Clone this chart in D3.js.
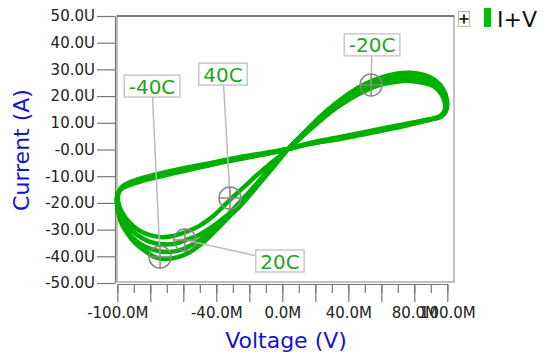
<!DOCTYPE html>
<html>
<head>
<meta charset="utf-8">
<script src="https://cdn.jsdelivr.net/npm/d3@7"></script>
<style>
  body { margin: 0; background: #fff; }
  svg { display: block; font-family: "DejaVu Sans", sans-serif; }
</style>
</head>
<body>
<svg id="chart" width="547" height="355"></svg>
<script>
// I-V sweeps, voltage in mV (M), current in uA (U), one closed loop per temperature
var loopM40 = [[3.5,0.2],[13.8,6.6],[22.8,12.2],[31.9,17.0],[41.0,21.2],[50.1,24.5],[59.2,26.8],[68.3,28.3],[77.4,28.7],[86.0,27.9],[92.5,26.0],[97.4,22.7],[99.8,18.5],[99.2,14.8],[96.2,12.5],
  [86.5,11.0],[71.3,9.2],[53.2,6.9],[35.0,4.7],[16.8,2.4],[3.5,0.2],
  [-10.5,-1.7],[-25.6,-3.6],[-43.8,-5.8],[-62.0,-8.4],[-80.2,-11.0],[-92.3,-13.3],[-98.4,-15.2],[-100.2,-18.5],
  [-99.6,-22.7],[-97.8,-27.2],[-94.1,-31.3],[-89.3,-35.0],[-83.2,-38.0],[-77.2,-40.3],[-71.1,-41.0],[-63.2,-40.3],[-55.9,-38.4],[-49.9,-35.8],[-43.8,-32.4],[-37.8,-28.7],[-31.7,-24.9],[-25.6,-21.2],[-19.6,-17.0],[-13.5,-12.5],[-7.5,-8.1],[-1.4,-3.6]];

var loopM20 = [[3.5,0.2],[13.8,6.6],[22.8,11.8],[31.9,16.7],[41.0,20.4],[50.1,23.8],[59.2,26.0],[68.3,27.5],[77.4,27.9],[86.0,27.2],[92.5,25.3],[97.4,21.9],[99.8,17.8],[99.2,14.4],[96.2,12.2],
  [86.5,11.0],[71.3,8.8],[53.2,6.6],[35.0,4.3],[16.8,2.4],[3.5,0.2],
  [-10.5,-1.7],[-25.6,-3.2],[-43.8,-5.8],[-62.0,-8.1],[-80.2,-10.7],[-92.3,-12.9],[-98.4,-15.2],[-100.2,-18.2],
  [-99.6,-22.3],[-97.8,-26.4],[-94.1,-30.5],[-89.3,-33.9],[-82.6,-36.5],[-75.3,-38.0],[-68.1,-38.4],[-60.2,-37.3],[-52.9,-35.0],[-45.6,-32.0],[-38.4,-28.3],[-30.5,-23.4],[-22.6,-18.2],[-14.7,-12.5],[-6.9,-6.6],[-1.4,-3.2]];

var loop20 = [[3.5,0.2],[13.8,6.2],[22.8,11.4],[31.9,15.9],[41.0,19.7],[50.1,23.0],[59.2,25.3],[68.3,26.4],[77.4,26.8],[86.0,26.0],[92.5,24.2],[96.8,21.2],[99.2,17.4],[98.6,14.4],[95.6,12.5],
  [86.5,10.7],[71.3,8.8],[53.2,6.6],[35.0,4.3],[16.8,2.1],[3.5,0.2],
  [-10.5,-1.7],[-25.6,-3.2],[-43.8,-5.4],[-62.0,-8.1],[-80.2,-10.3],[-92.3,-12.5],[-97.8,-14.8],[-100.2,-17.8],
  [-99.6,-21.5],[-97.2,-25.3],[-93.5,-29.0],[-88.1,-32.0],[-81.4,-34.3],[-74.1,-35.4],[-66.2,-35.4],[-58.4,-33.9],[-50.5,-32.0],[-42.6,-29.0],[-34.7,-25.3],[-26.8,-20.4],[-18.9,-15.2],[-11.1,-9.6],[-3.2,-3.9]];

var loop40 = [[3.5,0.2],[13.8,5.8],[22.8,10.7],[31.9,15.2],[41.0,18.9],[50.1,21.9],[59.2,24.2],[68.3,25.3],[77.4,25.7],[86.0,24.9],[92.5,23.4],[96.8,20.4],[98.6,17.0],[98.0,14.0],[95.0,12.2],
  [86.5,10.7],[71.3,8.4],[53.2,6.2],[35.0,3.9],[16.8,2.1],[3.5,0.2],
  [-10.5,-1.3],[-25.6,-2.8],[-43.8,-5.1],[-62.0,-7.3],[-80.2,-9.9],[-92.3,-12.2],[-97.8,-14.4],[-99.6,-17.4],
  [-99.0,-20.8],[-96.5,-24.2],[-92.9,-27.2],[-88.1,-29.8],[-82.0,-31.7],[-74.1,-32.8],[-66.2,-32.4],[-58.4,-30.9],[-50.5,-28.7],[-42.6,-25.3],[-31.7,-18.9],[-22.6,-13.7],[-14.7,-9.2],[-7.5,-5.4],[-1.4,-2.4]];

var loops = [loopM40, loopM20, loop20, loop40];

// temperature markers
var markerNames = ["-40C", "-20C", "20C", "40C"];
var markerV = [-74.1, 53.8, -59.0, -31.7];
var markerI = [-40.3, 24.2, -33.9, -18.2];

var xTicks = [-100,-90,-80,-70,-60,-50,-40,-30,-20,-10,0,10,20,30,40,50,60,70,80,90,100];
var xMajor = [-100,-80,-60,-40,-20,0,20,40,60,80,100];
var xLabelValues = [-100,-40,0,40,80,100];
var xLabels = ["-100.0M","-40.0M","0.0M","40.0M","80.0M","100.0M"];
var yTicks = [50,40,30,20,10,0,-10,-20,-30,-40,-50];
var yTickLabels = ["50.0U","40.0U","30.0U","20.0U","10.0U","-0.0U","-10.0U","-20.0U","-30.0U","-40.0U","-50.0U"];

var green = "#00b000";
var svg = d3.select("#chart");

var x = d3.scaleLinear().domain([-100, 100]).range([117.3, 447.3]);
var y = d3.scaleLinear().domain([-50, 50]).range([283, 16]);

// plot frame
svg.append("rect")
  .attr("x", 117).attr("y", 16).attr("width", 337).attr("height", 266)
  .attr("fill", "none").attr("stroke", "#999").attr("stroke-width", 1.2);
svg.append("line")
  .attr("x1", 117).attr("x2", 454).attr("y1", 16).attr("y2", 16)
  .attr("stroke", "#333").attr("stroke-width", 1.2);

// y axis
var yAxis = svg.append("g")
  .attr("transform", "translate(115,0)")
  .call(d3.axisLeft(y).tickValues(yTicks).tickSize(18).tickSizeOuter(0).tickPadding(2)
    .tickFormat(function(d, i) { return yTickLabels[i]; }));

// x axis: minor ticks, then major ticks with labels
var xMinor = svg.append("g")
  .attr("transform", "translate(0,284)")
  .call(d3.axisBottom(x).tickValues(xTicks).tickSize(9).tickSizeOuter(0).tickFormat(""));
var xAxis = svg.append("g")
  .attr("transform", "translate(0,284)")
  .call(d3.axisBottom(x).tickValues(xMajor).tickSize(18).tickSizeOuter(0).tickPadding(5)
    .tickFormat(function(d) {
      var k = xLabelValues.indexOf(d);
      return k < 0 ? "" : xLabels[k];
    }));

[yAxis, xMinor, xAxis].forEach(function(g) {
  g.selectAll("path, line").attr("stroke", "#777").attr("stroke-width", 1.2);
  g.selectAll("text").attr("fill", "#222").style("font-size", "15px").style("font-family", "DejaVu Sans, sans-serif");
});

// axis titles
svg.append("text")
  .attr("x", 286).attr("y", 348)
  .attr("text-anchor", "middle")
  .attr("fill", "#1414c8").style("font-size", "22px")
  .text("Voltage (V)");
svg.append("text")
  .attr("transform", "translate(29,150) rotate(-90)")
  .attr("text-anchor", "middle")
  .attr("fill", "#1414c8").style("font-size", "22px")
  .text("Current (A)");

// the loops
var line = d3.line()
  .x(function(d) { return x(d[0]); })
  .y(function(d) { return y(d[1]); })
  .curve(d3.curveCatmullRomClosed.alpha(0.5));

svg.append("g").selectAll("path")
  .data(loops)
  .enter()
  .append("path")
  .attr("d", line)
  .attr("fill", "none")
  .attr("stroke", green)
  .attr("stroke-width", 4.5)
  .attr("stroke-linejoin", "round");

// annotation boxes, offsets in px from the marker
var boxOffset = [[-8, -171], [1, -40], [95, 21], [-7, -124]];

var ann = svg.append("g").selectAll("g")
  .data(markerNames)
  .enter()
  .append("g");

ann.append("line")
  .attr("x1", function(d, i) { return x(markerV[i]); })
  .attr("y1", function(d, i) { return y(markerI[i]); })
  .attr("x2", function(d, i) { return x(markerV[i]) + boxOffset[i][0]; })
  .attr("y2", function(d, i) { return y(markerI[i]) + boxOffset[i][1]; })
  .attr("stroke", "#bbb").attr("stroke-width", 1.5);

ann.append("circle")
  .attr("cx", function(d, i) { return x(markerV[i]); })
  .attr("cy", function(d, i) { return y(markerI[i]); })
  .attr("r", 11)
  .attr("fill", "none").attr("stroke", "#888").attr("stroke-width", 1.5);
ann.append("path")
  .attr("d", function(d, i) {
    var cx = x(markerV[i]), cy = y(markerI[i]);
    return "M" + (cx - 11) + "," + cy + "H" + (cx + 11) + "M" + cx + "," + (cy - 11) + "V" + (cy + 11);
  })
  .attr("stroke", "#888").attr("stroke-width", 1.5);

var boxes = ann.append("rect")
  .attr("fill", "#fff").attr("stroke", "#c8c8c8").attr("stroke-width", 1.5);
var labels = ann.append("text")
  .attr("x", function(d, i) { return x(markerV[i]) + boxOffset[i][0]; })
  .attr("y", function(d, i) { return y(markerI[i]) + boxOffset[i][1] + 7.5; })
  .attr("text-anchor", "middle")
  .attr("fill", "#1ea51e").style("font-size", "20px")
  .text(function(d) { return d; });

labels.each(function(d, i) {
  var w = this.getComputedTextLength() + 9;
  d3.select(boxes.nodes()[i])
    .attr("x", x(markerV[i]) + boxOffset[i][0] - w / 2)
    .attr("y", y(markerI[i]) + boxOffset[i][1] - 11)
    .attr("width", w).attr("height", 22);
});

// legend
svg.append("rect")
  .attr("x", 458.5).attr("y", 11.5).attr("width", 11).attr("height", 15)
  .attr("fill", "#fff").attr("stroke", "#cdb89a").attr("stroke-width", 1.2);
svg.append("path")
  .attr("d", "M459.5,19H468.5M464,14.5V23.5")
  .attr("stroke", "#000").attr("stroke-width", 1.6);
svg.append("rect")
  .attr("x", 484).attr("y", 8).attr("width", 7).attr("height", 19)
  .attr("fill", "#00c000");
svg.append("text")
  .attr("x", 497).attr("y", 26.5)
  .attr("fill", "#111").style("font-size", "22px")
  .text("I+V");
</script>
</body>
</html>
